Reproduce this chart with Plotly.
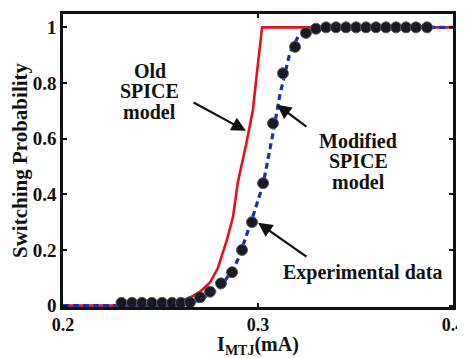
import plotly.graph_objects as go

# Experimental data (I_MTJ in mA, switching probability)
exp_x = [0.230, 0.2354, 0.2405, 0.2456, 0.2508, 0.2559, 0.2605, 0.2651, 0.2703, 0.2754,
         0.2810, 0.2867, 0.2918, 0.2969, 0.3026, 0.3077, 0.3128, 0.3190, 0.3246, 0.3297,
         0.3349, 0.3400, 0.3451, 0.3503, 0.3554, 0.3605, 0.3656, 0.3708, 0.3759, 0.3810, 0.3867]
exp_y = [0.01, 0.01, 0.01, 0.01, 0.01, 0.01, 0.01, 0.012, 0.03, 0.05,
         0.08, 0.12, 0.20, 0.30, 0.44, 0.655, 0.835, 0.93, 0.98, 0.995,
         1.0, 1.0, 1.0, 1.0, 1.0, 1.0, 1.0, 1.0, 1.0, 1.0, 1.0]

# Old SPICE model
old_x = [0.2, 0.2523, 0.2590, 0.2651, 0.2703, 0.2754, 0.2795, 0.2841, 0.2872, 0.2897,
         0.2939, 0.2974, 0.2995, 0.3021, 0.4]
old_y = [0.0, 0.0, 0.011, 0.029, 0.050, 0.083, 0.136, 0.237, 0.320, 0.445,
         0.578, 0.704, 0.840, 1.0, 1.0]

# Modified SPICE model
mod_x = [0.2, 0.260, 0.270, 0.280, 0.2872, 0.290, 0.2969, 0.3026, 0.3077, 0.3113, 0.3164, 0.3205, 0.330, 0.4]
mod_y = [0.0, 0.0, 0.02, 0.06, 0.13, 0.17, 0.31, 0.435, 0.62, 0.76, 0.91, 0.966, 1.0, 1.0]

x_ticks = [0.2, 0.3, 0.4]
x_tick_text = ["0.2", "0.3", "0.4"]
y_ticks = [0, 0.2, 0.4, 0.6, 0.8, 1.0]
y_tick_text = ["0", "0.2", "0.4", "0.6", "0.8", "1"]

# annotation texts (one entry per line)
old_label = ["Old", "SPICE", "model"]
mod_label = ["Modified", "SPICE", "model"]
exp_label = "Experimental data"

FONT = "Liberation Serif, Times New Roman, serif"

fig = go.Figure()
fig.add_trace(go.Scatter(x=old_x, y=old_y, mode="lines",
                         line=dict(color="#e8101c", width=2.6), hoverinfo="skip"))
fig.add_trace(go.Scatter(x=mod_x, y=mod_y, mode="lines",
                         line=dict(color="#1532b4", width=3.2, dash="6px,4px"), hoverinfo="skip"))
fig.add_trace(go.Scatter(x=exp_x, y=exp_y, mode="markers", cliponaxis=False,
                         marker=dict(color="#1a1a26", size=11, line=dict(color="#5a5a60", width=1))))

annot_font = dict(family=FONT, size=20, color="#111111")
arrow_kw = dict(showarrow=True, arrowhead=2, arrowsize=1.3, arrowwidth=2.2, arrowcolor="#111111",
                xref="x", yref="y", axref="x", ayref="y", text="")
fig.add_annotation(x=0.2938, y=0.628, ax=0.2662, ay=0.733, **arrow_kw)
fig.add_annotation(x=0.3097, y=0.722, ax=0.3256, ay=0.639, **arrow_kw)
fig.add_annotation(x=0.3000, y=0.298, ax=0.3256, ay=0.172, **arrow_kw)

line_step = 0.0725
for i, t in enumerate(old_label):
    fig.add_annotation(x=0.2446, y=0.842 - i * line_step, text="<b>%s</b>" % t, showarrow=False,
                       font=annot_font, xref="x", yref="y")
for i, t in enumerate(mod_label):
    fig.add_annotation(x=0.3513, y=0.591 - i * line_step, text="<b>%s</b>" % t, showarrow=False,
                       font=annot_font, xref="x", yref="y")
fig.add_annotation(x=0.3538, y=0.118, text="<b>%s</b>" % exp_label, showarrow=False,
                   font=annot_font, xref="x", yref="y")

axis_common = dict(showgrid=False, zeroline=False, showline=True, linecolor="#111111", linewidth=2.5,
                   mirror="ticks", ticks="inside", ticklen=4, tickwidth=1.5, tickcolor="#111111",
                   ticklabeloverflow="allow", automargin=False)

fig.update_layout(
    width=465, height=350,
    margin=dict(l=55, r=20, t=6, b=51),
    paper_bgcolor="white", plot_bgcolor="white",
    showlegend=False,
    xaxis=dict(range=[0.2, 0.4], tickvals=x_ticks, ticktext=["<b>%s</b>" % t for t in x_tick_text],
               tickfont=dict(family=FONT, size=18, color="#111111"),
               title=dict(text="<b>I<sub>MTJ</sub>(mA)</b>", font=dict(family=FONT, size=20, color="#111111")),
               **axis_common),
    yaxis=dict(range=[-0.005, 1.048], tickvals=y_ticks, ticktext=["<b>%s</b>" % t for t in y_tick_text],
               tickfont=dict(family=FONT, size=19, color="#111111"),
               title=dict(text="<b>Switching Probability</b>", font=dict(family=FONT, size=21, color="#111111")),
               **axis_common),
)

fig.write_html("out.html")
